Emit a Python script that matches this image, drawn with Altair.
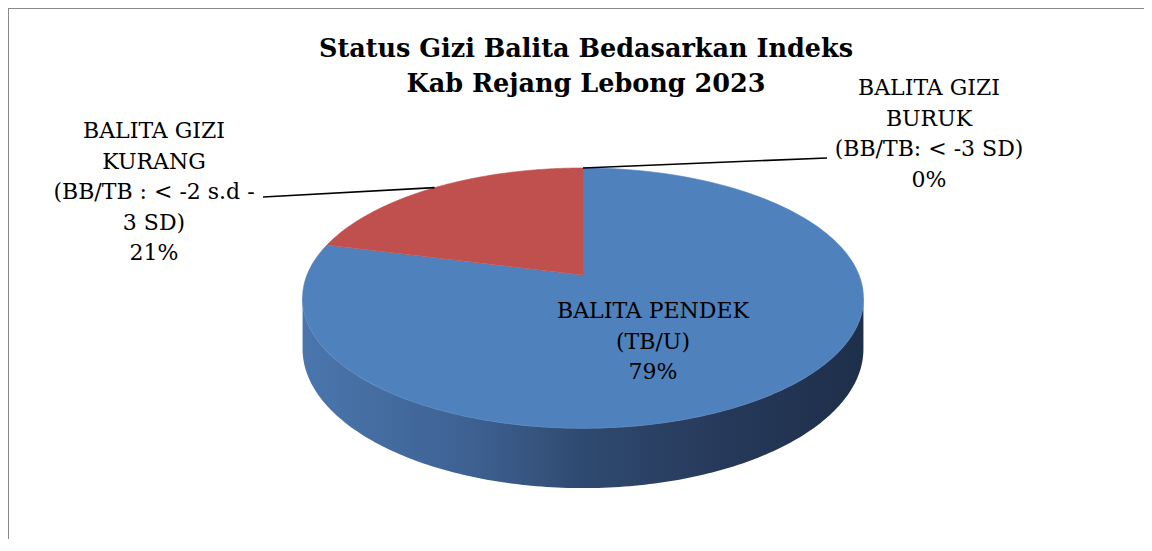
import altair as alt
import pandas as pd

# ---------------- data ----------------
categories = [
    "BALITA PENDEK (TB/U)",
    "BALITA GIZI KURANG (BB/TB : < -2 s.d - 3 SD)",
    "BALITA GIZI BURUK (BB/TB: < -3 SD)",
]
values = [79, 21, 0]
colors = ["#4F81BD", "#C0504D", "#9BBB59"]
label_lines = [
    ["BALITA PENDEK", "(TB/U)"],
    ["BALITA GIZI", "KURANG", "(BB/TB : < -2 s.d -", "3 SD)"],
    ["BALITA GIZI", "BURUK", "(BB/TB: < -3 SD)"],
]
title_lines = ["Status Gizi Balita Bedasarkan Indeks", "Kab Rejang Lebong 2023"]

# ---------------- layout (page pixels) ----------------
label_x = [653, 154, 929]
label_y = [318, 138, 95]
leader_x = [None, 263, 827]
leader_y = [None, 197, 158]

X0, Y0 = 11, 11
W, H = 1133, 528
# 3-D pie projection
CX, A, B, K, RX, D0 = 583, 275, 77.3, -0.177, 276, 49.4
N = 180   # arc samples per slice
M = 180   # arc samples on the side wall

df = pd.DataFrame({
    "cat": categories,
    "value": values,
    "idx": list(range(len(values))),
    "lines": label_lines,
    "lx": label_x,
    "ly": label_y,
    "ldx": leader_x,
    "ldy": leader_y,
})

xs = alt.Scale(domain=[X0, X0 + W], nice=False, zero=False)
ys = alt.Scale(domain=[Y0, Y0 + H], reverse=True, nice=False, zero=False)
cscale = alt.Scale(domain=categories, range=colors)


def px(u, v):
    return f"{CX} + {RX} * ({u}) / (1 + ({K}) * ({v}))"


def py(v):
    return f"({A} + {B} * ({v})) / (1 + ({K}) * ({v}))"


def base():
    return (
        alt.Chart(df)
        .transform_joinaggregate(total="sum(value)")
        .transform_window(cum="sum(value)", sort=[alt.SortField("idx")], frame=[None, 0])
        .transform_calculate(a0="2*PI*(datum.cum - datum.value)/datum.total")
        .transform_calculate(a1="2*PI*datum.cum/datum.total")
    )


# side wall (front half of the pie)
side_src = (
    base()
    .transform_calculate(s="max(datum.a0, PI/2 + 0.178)")
    .transform_calculate(e="min(datum.a1, 3*PI/2 - 0.178)")
    .transform_filter("datum.e > datum.s")
    .transform_calculate(k=f"sequence(0, {2 * M + 2})")
    .transform_flatten(["k"])
    .transform_calculate(bot=f"datum.k > {M} ? 1 : 0")
    .transform_calculate(j=f"datum.k > {M} ? {2 * M + 1} - datum.k : datum.k")
    .transform_calculate(ang=f"datum.s + (datum.e - datum.s) * datum.j / {M}")
    .transform_calculate(u="sin(datum.ang)")
    .transform_calculate(v="-cos(datum.ang)")
    .transform_calculate(X=px("datum.u", "datum.v"))
    .transform_calculate(Y=py("datum.v") + f" + datum.bot * {D0} / (1 + ({K}) * datum.v)")
)

side_fill = {
    "gradient": "linear",
    "x1": 0, "x2": 1, "y1": 0, "y2": 0,
    "stops": [
        {"offset": 0, "color": "#4a76ad"},
        {"offset": 0.3, "color": "#3e6192"},
        {"offset": 0.5, "color": "#2f4a70"},
        {"offset": 0.75, "color": "#26395a"},
        {"offset": 1, "color": "#1e2f4a"},
    ],
}

side = side_src.mark_line(fill=side_fill, strokeWidth=0, interpolate="linear").encode(
    x=alt.X("X:Q", scale=xs, axis=None),
    y=alt.Y("Y:Q", scale=ys, axis=None),
    detail="cat:N",
    order=alt.Order("k:Q"),
)

rim = (
    side_src.transform_filter(f"datum.k <= {M}")
    .mark_line(stroke="#7aa3d6", strokeWidth=1.2, strokeOpacity=0.7)
    .encode(
        x=alt.X("X:Q", scale=xs, axis=None),
        y=alt.Y("Y:Q", scale=ys, axis=None),
        detail="cat:N",
        order=alt.Order("k:Q"),
    )
)

# top faces of the slices
top = (
    base()
    .transform_filter("datum.value > 0")
    .transform_calculate(k=f"sequence(0, {N + 2})")
    .transform_flatten(["k"])
    .transform_calculate(r="datum.k == 0 ? 0 : 1")
    .transform_calculate(ang=f"datum.a0 + (datum.a1 - datum.a0) * max(datum.k - 1, 0) / {N}")
    .transform_calculate(u="datum.r * sin(datum.ang)")
    .transform_calculate(v="-datum.r * cos(datum.ang)")
    .transform_calculate(X=px("datum.u", "datum.v"))
    .transform_calculate(Y=py("datum.v"))
    .mark_line(strokeWidth=0.6, interpolate="linear")
    .encode(
        x=alt.X("X:Q", scale=xs, axis=None),
        y=alt.Y("Y:Q", scale=ys, axis=None),
        fill=alt.Fill("cat:N", scale=cscale, legend=None),
        stroke=alt.Stroke("cat:N", scale=cscale, legend=None),
        detail="cat:N",
        order=alt.Order("k:Q"),
    )
)

# leader lines from label to slice edge
leaders = (
    base()
    .transform_filter("isValid(datum.ldx)")
    .transform_calculate(mid="(datum.a0 + datum.a1) / 2")
    .transform_calculate(u="sin(datum.mid)")
    .transform_calculate(v="-cos(datum.mid)")
    .transform_calculate(ex=px("datum.u", "datum.v"))
    .transform_calculate(ey=py("datum.v"))
    .mark_rule(color="#000000", strokeWidth=1.6)
    .encode(
        x=alt.X("ldx:Q", scale=xs, axis=None),
        y=alt.Y("ldy:Q", scale=ys, axis=None),
        x2=alt.X2("ex:Q"),
        y2=alt.Y2("ey:Q"),
    )
)

labels = (
    alt.Chart(df)
    .transform_joinaggregate(total="sum(value)")
    .transform_calculate(
        txt="join(datum.lines, '\\n') + '\\n' + format(datum.value / datum.total, '.0%')"
    )
    .mark_text(
        lineBreak="\n",
        font="DejaVu Serif",
        fontSize=22,
        lineHeight=30.5,
        align="center",
        baseline="alphabetic",
        color="#000000",
    )
    .encode(
        x=alt.X("lx:Q", scale=xs, axis=None),
        y=alt.Y("ly:Q", scale=ys, axis=None),
        text="txt:N",
    )
)

title = (
    alt.Chart(pd.DataFrame({"t": ["\n".join(title_lines)]}))
    .mark_text(
        lineBreak="\n",
        font="DejaVu Serif",
        fontSize=25.5,
        fontWeight="bold",
        lineHeight=35,
        align="center",
        baseline="alphabetic",
        color="#000000",
    )
    .encode(x=alt.value(586 - X0), y=alt.value(57 - Y0), text="t:N")
)

border_top = alt.Chart(df).mark_rule(color="#898989", strokeWidth=2).encode(
    x=alt.value(-3), x2=alt.value(W), y=alt.value(-3)
)
border_left = alt.Chart(df).mark_rule(color="#898989", strokeWidth=2).encode(
    x=alt.value(-3), y=alt.value(-3), y2=alt.value(H)
)

chart = (
    alt.layer(side, rim, top, leaders, labels, title, border_top, border_left)
    .properties(
        width=W,
        height=H,
        padding={"left": 3, "top": 3, "right": 0, "bottom": 0},
        autosize="none",
        background="#ffffff",
    )
    .configure_view(strokeWidth=0)
)

chart.save("out.html", embed_options={"renderer": "svg", "actions": False})
